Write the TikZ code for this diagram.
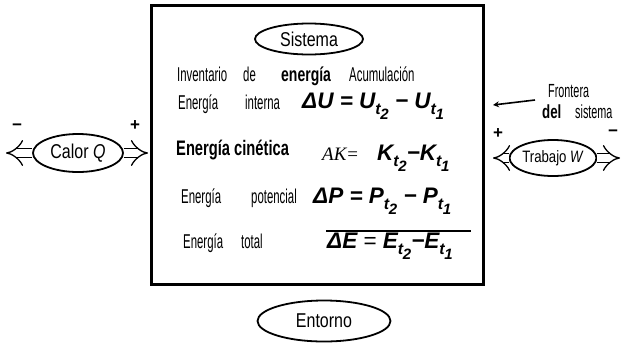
\documentclass[tikz,border=0pt]{standalone}
\usepackage{fontspec}
\setmainfont{Liberation Sans}
\newfontfamily\condf[FakeStretch=0.57]{Liberation Sans}
\newfontfamily\condb[FakeStretch=0.7]{Liberation Sans}
\newfontfamily\ellf[FakeStretch=0.8]{Liberation Sans}
\newfontfamily\serf{Liberation Serif}
\usetikzlibrary{arrows.meta,shapes.geometric}
\newcommand{\tsb}[1]{\raisebox{-0.3em}{\fontsize{16}{16}\selectfont t\kern-0.02em\raisebox{-0.3em}{\fontsize{15}{15}\selectfont #1}}}
\tikzset{
  ell/.style={draw, ellipse, line width=1.8pt, inner sep=0pt, font=\ellf\fontsize{20}{20}\selectfont},
  txt/.style={anchor=base west, inner sep=0pt, font=\condf\fontsize{20}{20}\selectfont},
  btxt/.style={anchor=base west, inner sep=0pt, font=\condb\bfseries\fontsize{20}{20}\selectfont},
  eq/.style={anchor=base west, inner sep=0pt, font=\bfseries\itshape\fontsize{22.5}{22.5}\selectfont},
  dbl/.style={double, double distance=8pt, line width=1.3pt, -{Implies[scale=1.5]}},
  sgn/.style={inner sep=0pt, font=\bfseries\fontsize{17}{17}\selectfont},
}
\begin{document}
\begin{tikzpicture}[x=1pt,y=-1pt]
\useasboundingbox (0,0) rectangle (621,346);
% system boundary
\draw[line width=3pt] (151,5) rectangle (483,284);
% ellipses
\node[ell, minimum width=108, minimum height=31] (sis) at (309,39) {Sistema};
\node[ell, minimum width=133, minimum height=41] (ent) at (324,321) {Entorno};
\node[ell, minimum width=90, minimum height=38] (cal) at (78,153) {Calor \textit{Q}};
\node[ell, minimum width=82, minimum height=36, font=\ellf\fontsize{16.5}{16.5}\selectfont] (tra) at (553,158) {Trabajo \textit{W}};
% arrows
\coordinate (cL) at (6,153);
\coordinate (cR) at (148,153);
\coordinate (tL) at (493,158);
\coordinate (tR) at (620,158);
\draw[dbl] (cal.west) -- (cL);
\draw[dbl] (cal.east) -- (cR);
\draw[dbl] (tra.west) -- (tL);
\draw[dbl] (tra.east) -- (tR);
\node[sgn] (m1) at (17,127) {\textminus};
\node[sgn] (p1) at (135,126) {+};
\node[sgn] (p2) at (498,134) {+};
\node[sgn] (m2) at (613,133) {\textminus};
% frontera
\node[txt, font=\condf\fontsize{19}{19}\selectfont] (fr1) at (548,97) {Frontera};
\node[btxt, font=\condb\bfseries\fontsize{19}{19}\selectfont] (fr2) at (542,118) {del};
\node[txt, font=\condf\fontsize{19}{19}\selectfont] (fr3) at (575,118) {sistema};
\coordinate (frT) at (493,105);
\draw[line width=1.6pt, -{Stealth[length=6pt,width=6pt]}] (535,100) -- (frT);
% rows
\node[txt] (r1a) at (177,81) {Inventario};
\node[txt] (r1b) at (243,81) {de};
\node[btxt] (r1c) at (281,81) {energía};
\node[txt] (r1d) at (349,81) {Acumulación};
\node[txt] (r2a) at (178,109) {Energía};
\node[txt] (r2b) at (245,109) {interna};
\node[eq] (e2) at (302,108) {ΔU = U\tsb{2} − U\tsb{1}};
\node[anchor=base west, inner sep=0pt, font=\condb\bfseries\fontsize{21}{21}\selectfont] (r3a) at (176,155) {Energía cinética};
\node[anchor=base west, inner sep=0pt, font=\serf\fontsize{19}{19}\selectfont] (e3a) at (322,160) {\textit{AK}=};
\node[eq] (e3b) at (377,160) {K\tsb{2}−K\tsb{1}};
\node[txt] (r4a) at (181,203) {Energía};
\node[txt] (r4b) at (251,203) {potencial};
\node[eq] (e4) at (313,203) {ΔP = P\tsb{2} − P\tsb{1}};
\coordinate (lnA) at (326,231);
\coordinate (lnB) at (471,231);
\draw[line width=2.5pt] (lnA) -- (lnB);
\node[txt] (r5a) at (183,248) {Energía};
\node[txt] (r5b) at (241,248) {total};
\node[eq] (e5) at (327,248) {ΔE {\mdseries\upshape=} E\tsb{2}−E\tsb{1}};
\end{tikzpicture}
\end{document}
